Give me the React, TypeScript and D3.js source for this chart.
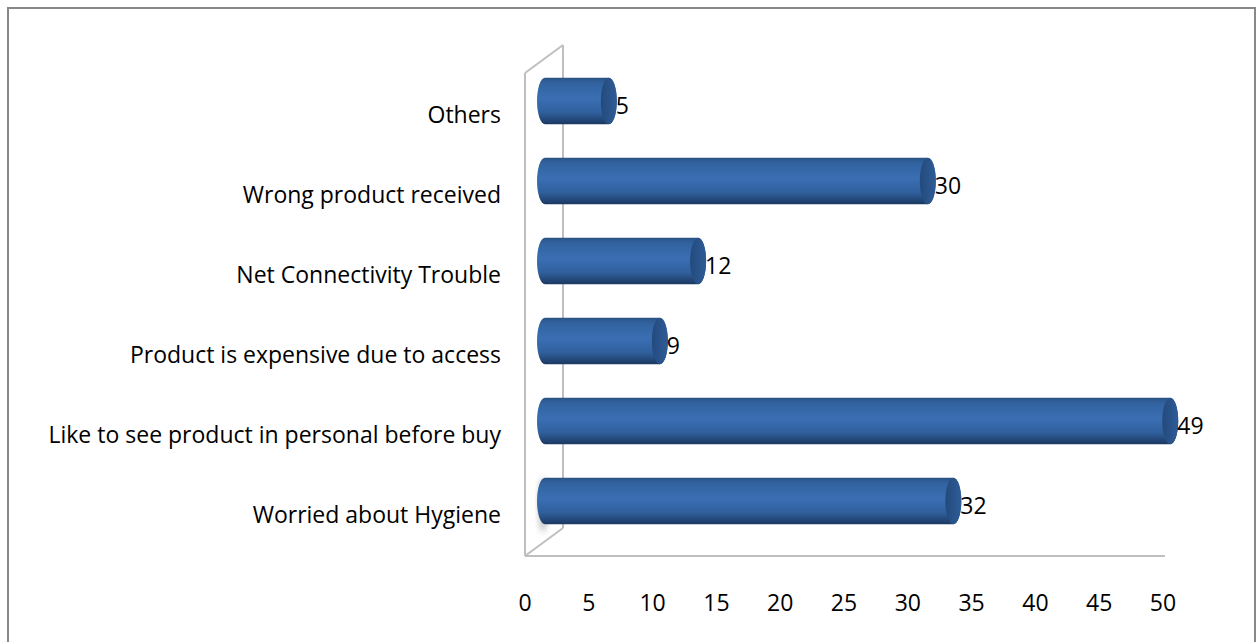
import React from "react";
import * as d3 from "d3";

const categories = [
  "Others",
  "Wrong product received",
  "Net Connectivity Trouble",
  "Product is expensive due to access",
  "Like to see product in personal before buy",
  "Worried about Hygiene",
];
const values = [5, 30, 12, 9, 49, 32];
const ticks = [0, 5, 10, 15, 20, 25, 30, 35, 40, 45, 50];

const W = 1259;
const H = 642;
const FONT = "'Open Sans', sans-serif";
const FS = 23;

export default function App() {
  const x = d3.scaleLinear().domain([0, 50]).range([525, 1163]);
  const y = d3.scaleBand<string>().domain(categories).range([61, 541]).paddingInner(0.42).paddingOuter(0.21);
  const depth = 38;
  const dy = -28;
  const barOff = 20;
  const rx = 8;
  const bh = y.bandwidth();

  return (
    <svg width={W} height={H} style={{ position: "absolute", left: 0, top: 0 }}>
      <defs>
        <linearGradient id="body" x1="0" y1="0" x2="0" y2="1">
          <stop offset="0%" stopColor="#2a5284" />
          <stop offset="12%" stopColor="#3263a0" />
          <stop offset="45%" stopColor="#3a6fb4" />
          <stop offset="75%" stopColor="#305f9c" />
          <stop offset="100%" stopColor="#1b3961" />
        </linearGradient>
        <linearGradient id="cap" x1="0" y1="0" x2="1" y2="0">
          <stop offset="0%" stopColor="#234a7c" />
          <stop offset="100%" stopColor="#2f5c97" />
        </linearGradient>
        <filter id="blur" x="-50%" y="-50%" width="200%" height="200%">
          <feGaussianBlur stdDeviation="3" />
        </filter>
      </defs>
      <rect x={0} y={0} width={W} height={H} fill="#ffffff" />
      <rect x={8} y={8} width={1247} height={660} fill="none" stroke="#888888" strokeWidth={2} />

      {/* 3D wall and floor */}
      <g stroke="#bfbfbf" strokeWidth={2} fill="none">
        <line x1={x(0)} y1={73} x2={x(0)} y2={556} />
        <line x1={x(0)} y1={73} x2={x(0) + depth} y2={73 + dy} />
        <line x1={x(0) + depth} y1={73 + dy} x2={x(0) + depth} y2={556 + dy} />
        <line x1={x(0)} y1={556} x2={x(0) + depth} y2={556 + dy} />
        <line x1={x(0)} y1={556} x2={x(50) + 2} y2={556} />
      </g>

      {/* shadow near bottom bar */}
      <ellipse cx={x(0) + 18} cy={(y("Worried about Hygiene") ?? 0) + bh / 2 + 4} rx={4} ry={bh / 2 + 4} fill="#9a9a9a" opacity={0.7} filter="url(#blur)" />

      {/* bars */}
      {categories.map((c, i) => {
        const top = y(c) ?? 0;
        const cy = top + bh / 2;
        const x0 = x(0) + barOff;
        const x1 = x(values[i]) + barOff;
        const ry = bh / 2;
        const d = `M${x0},${top} L${x1},${top} A${rx},${ry} 0 0 1 ${x1},${top + bh} L${x0},${top + bh} A${rx},${ry} 0 0 1 ${x0},${top} Z`;
        return (
          <g key={c}>
            <path d={d} fill="url(#body)" />
            <ellipse cx={x1} cy={cy} rx={rx} ry={ry} fill="url(#cap)" />
            <text x={x1 + rx - 1} y={cy + 7} fontFamily={FONT} fontSize={FS} fill="#000" dominantBaseline="middle">
              {values[i]}
            </text>
            <text x={501} y={cy + 16} fontFamily={FONT} fontSize={FS} fill="#000" textAnchor="end" dominantBaseline="middle">
              {c}
            </text>
          </g>
        );
      })}

      {/* x ticks */}
      {ticks.map((t) => (
        <text key={t} x={x(t)} y={605} fontFamily={FONT} fontSize={FS} fill="#000" textAnchor="middle" dominantBaseline="middle">
          {t}
        </text>
      ))}
    </svg>
  );
}
